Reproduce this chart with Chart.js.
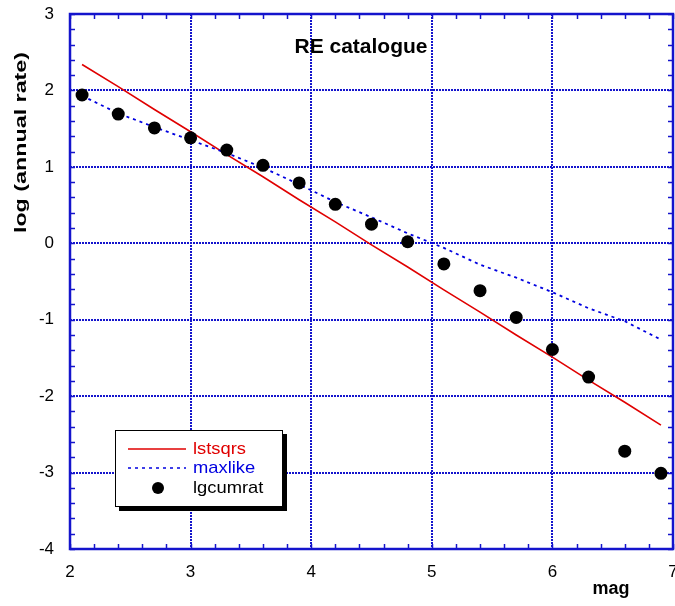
<!DOCTYPE html>
<html>
<head>
<meta charset="utf-8">
<script src="https://cdn.jsdelivr.net/npm/chart.js@4/dist/chart.umd.min.js"></script>
<style>
html,body{margin:0;padding:0;background:#fff;}
#wrap{width:675px;height:606px;position:relative;}
</style>
</head>
<body>
<div id="wrap"><canvas id="c" width="675" height="606"></canvas></div>
<script>
const mags = [2.1, 2.4, 2.7, 3.0, 3.3, 3.6, 3.9, 4.2, 4.5, 4.8, 5.1, 5.4, 5.7, 6.0, 6.3, 6.6, 6.9];
const lgcumrat = [1.94, 1.69, 1.51, 1.38, 1.22, 1.02, 0.79, 0.51, 0.25, 0.02, -0.27, -0.62, -0.97, -1.39, -1.75, -2.72, -3.01];
const lstsqrs = [2.34, 2.05, 1.75, 1.46, 1.16, 0.87, 0.57, 0.28, -0.02, -0.31, -0.61, -0.90, -1.20, -1.49, -1.79, -2.08, -2.38];
const maxlike = [1.93, 1.70, 1.52, 1.35, 1.18, 0.99, 0.77, 0.54, 0.34, 0.13, -0.06, -0.28, -0.45, -0.64, -0.85, -1.02, -1.26];
const xRange = [2, 7];
const yRange = [-4, 3];
const chartTitle = "RE catalogue";
const xTitle = "mag";
const yTitle = "log (annual rate)";
const seriesNames = ["lstsqrs", "maxlike", "lgcumrat"];

const toXY = (ys) => mags.map((m, i) => ({x: m, y: ys[i]}));
const BLUE = '#1414cc';
const FONT = '"Liberation Sans", Arial, sans-serif';

function wideText(ctx, text, x, y, font, sx, align, baseline, color, rot) {
  ctx.save();
  ctx.translate(x, y);
  if (rot) ctx.rotate(rot);
  ctx.scale(sx, 1);
  ctx.font = font;
  ctx.textAlign = align;
  ctx.textBaseline = baseline;
  ctx.fillStyle = color;
  ctx.fillText(text, 0, 0);
  ctx.restore();
}

const framePlugin = {
  id: 'frame',
  beforeDatasetsDraw(chart) {
    const {ctx, chartArea: a, scales: {x, y}} = chart;
    ctx.save();
    ctx.strokeStyle = BLUE;
    ctx.lineWidth = 2;
    ctx.setLineDash([2, 1]);
    for (let v = xRange[0] + 1; v < xRange[1]; v++) {
      const px = Math.round(x.getPixelForValue(v));
      ctx.beginPath(); ctx.moveTo(px, a.top); ctx.lineTo(px, a.bottom); ctx.stroke();
    }
    for (let v = yRange[0] + 1; v < yRange[1]; v++) {
      const py = Math.round(y.getPixelForValue(v));
      ctx.beginPath(); ctx.moveTo(a.left, py); ctx.lineTo(a.right, py); ctx.stroke();
    }
    ctx.setLineDash([]);
    ctx.lineWidth = 1.5;
    const tl = 5;
    for (let k = 0; k <= (xRange[1] - xRange[0]) * 5; k++) {
      const v = xRange[0] + k * 0.2;
      const px = Math.round(x.getPixelForValue(v)) + 0.5;
      ctx.beginPath(); ctx.moveTo(px, a.bottom); ctx.lineTo(px, a.bottom - tl); ctx.stroke();
      ctx.beginPath(); ctx.moveTo(px, a.top); ctx.lineTo(px, a.top + tl); ctx.stroke();
    }
    for (let k = 0; k <= (yRange[1] - yRange[0]) * 5; k++) {
      const v = yRange[0] + k * 0.2;
      const py = Math.round(y.getPixelForValue(v)) + 0.5;
      ctx.beginPath(); ctx.moveTo(a.left, py); ctx.lineTo(a.left + tl, py); ctx.stroke();
      ctx.beginPath(); ctx.moveTo(a.right, py); ctx.lineTo(a.right - tl, py); ctx.stroke();
    }
    ctx.lineWidth = 2.5;
    ctx.strokeRect(a.left, a.top, a.right - a.left, a.bottom - a.top);
    ctx.restore();
  },
  afterDraw(chart) {
    const {ctx} = chart;
    wideText(ctx, chartTitle, 361, 53, 'bold 21px ' + FONT, 1.0, 'center', 'alphabetic', '#000');
    wideText(ctx, xTitle, 611, 594, 'bold 18px ' + FONT, 1.0, 'center', 'alphabetic', '#000');
    wideText(ctx, yTitle, 26, 142.5, 'bold 17px ' + FONT, 1.37, 'center', 'alphabetic', '#000', -Math.PI / 2);
    ctx.save();
    const L = 115, T = 430, W = 168, H = 77;
    ctx.fillStyle = '#000';
    ctx.fillRect(L + 4, T + 4, W, H);
    ctx.fillStyle = '#fff';
    ctx.fillRect(L, T, W, H);
    ctx.strokeStyle = '#000';
    ctx.lineWidth = 1;
    ctx.strokeRect(L + 0.5, T + 0.5, W - 1, H - 1);
    ctx.strokeStyle = '#e00000'; ctx.lineWidth = 1.5;
    ctx.beginPath(); ctx.moveTo(128, 449); ctx.lineTo(186, 449); ctx.stroke();
    ctx.strokeStyle = '#0000e0'; ctx.lineWidth = 1.5; ctx.setLineDash([3, 4]);
    ctx.beginPath(); ctx.moveTo(128, 468); ctx.lineTo(186, 468); ctx.stroke();
    ctx.setLineDash([]);
    ctx.fillStyle = '#000';
    ctx.beginPath(); ctx.arc(158, 488, 6, 0, Math.PI * 2); ctx.fill();
    ctx.restore();
    wideText(ctx, seriesNames[0], 193, 449, '17px ' + FONT, 1.08, 'left', 'middle', '#e00000');
    wideText(ctx, seriesNames[1], 193, 468, '17px ' + FONT, 1.08, 'left', 'middle', '#0000e0');
    wideText(ctx, seriesNames[2], 193, 488, '17px ' + FONT, 1.08, 'left', 'middle', '#000');
  }
};

new Chart(document.getElementById('c'), {
  type: 'scatter',
  data: {
    datasets: [
      {label: seriesNames[2], data: toXY(lgcumrat), showLine: false, pointRadius: 6.5, pointHoverRadius: 6.5,
       backgroundColor: '#000', borderColor: '#000', borderWidth: 0, order: 0},
      {label: seriesNames[1], data: toXY(maxlike), showLine: true, pointRadius: 0, borderColor: '#0000e0',
       borderWidth: 1.8, borderDash: [3, 4], fill: false, order: 1},
      {label: seriesNames[0], data: toXY(lstsqrs), showLine: true, pointRadius: 0, borderColor: '#e00000',
       borderWidth: 1.6, fill: false, order: 2}
    ]
  },
  options: {
    responsive: false,
    animation: false,
    events: [],
    layout: {autoPadding: false, padding: {left: 0, right: 2, top: 14, bottom: 0}},
    plugins: {legend: {display: false}, tooltip: {enabled: false}, title: {display: false}},
    scales: {
      x: {
        type: 'linear', min: xRange[0], max: xRange[1],
        grid: {display: false, drawTicks: false}, border: {display: false},
        ticks: {stepSize: 1, color: '#000', padding: 13, maxRotation: 0,
                font: {family: FONT, size: 17}},
        afterFit(s) { s.height = 57; s.paddingLeft = 0; s.paddingRight = 0; }
      },
      y: {
        type: 'linear', min: yRange[0], max: yRange[1],
        grid: {display: false, drawTicks: false}, border: {display: false},
        ticks: {stepSize: 1, color: '#000', padding: 16,
                font: {family: FONT, size: 17}},
        afterFit(s) { s.width = 70; s.paddingTop = 0; s.paddingBottom = 0; }
      }
    }
  },
  plugins: [framePlugin]
});
</script>
</body>
</html>
